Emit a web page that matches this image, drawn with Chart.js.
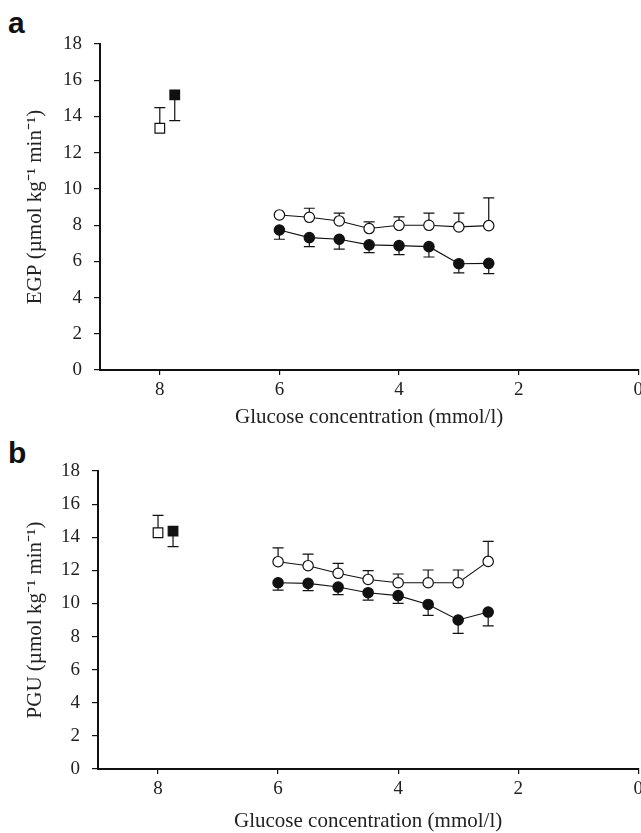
<!DOCTYPE html>
<html>
<head>
<meta charset="utf-8">
<script src="https://cdn.jsdelivr.net/npm/chart.js@4/dist/chart.umd.min.js"></script>
<style>
  html, body { margin: 0; padding: 0; background: #fff; }
  body { width: 641px; height: 833px; position: relative; overflow: hidden; }
  .panel { position: absolute; left: 0; }
  .tag { position: absolute; left: 8px; font: bold 30px "Liberation Sans", Arial, sans-serif; line-height: 30px; color: #111; }
</style>
</head>
<body>
<div class="tag" style="top:8px">a</div>
<div class="tag" style="top:438px">b</div>
<!-- canvases are a bit wider than the page so the "0" label is cut at the edge as in the original -->
<canvas id="egp" class="panel" style="top:0" width="647" height="432"></canvas>
<canvas id="pgu" class="panel" style="top:400px" width="647" height="436"></canvas>
<script>
'use strict';

// ─── Data ────────────────────────────────────────────────────────────────────

const glucoseLevels = [6.0, 5.5, 5.0, 4.5, 4.0, 3.5, 3.0, 2.5];
const xTicks = [8, 6, 4, 2, 0];
const yTicks = [0, 2, 4, 6, 8, 10, 12, 14, 16, 18];

// baseline squares: open at 8.0, filled at 7.75
const baselineOpenX = 8.0;
const baselineFilledX = 7.75;

const egpBaseOpen = 13.35;
const egpBaseOpenSE = 1.14;
const egpBaseFilled = 15.19;
const egpBaseFilledSE = 1.42;
const egpOpen = [8.56, 8.43, 8.23, 7.81, 7.99, 7.99, 7.90, 7.97];
const egpOpenSE = [0.08, 0.50, 0.43, 0.37, 0.46, 0.67, 0.76, 1.53];
const egpFilled = [7.73, 7.31, 7.22, 6.91, 6.87, 6.81, 5.87, 5.89];
const egpFilledSE = [0.51, 0.50, 0.55, 0.43, 0.50, 0.57, 0.51, 0.57];

const pguBaseOpen = 14.27;
const pguBaseOpenSE = 1.05;
const pguBaseFilled = 14.37;
const pguBaseFilledSE = 0.94;
const pguOpen = [12.52, 12.28, 11.82, 11.45, 11.25, 11.25, 11.25, 12.54];
const pguOpenSE = [0.84, 0.70, 0.60, 0.53, 0.53, 0.77, 0.77, 1.21];
const pguFilled = [11.25, 11.21, 10.99, 10.65, 10.47, 9.94, 9.00, 9.48];
const pguFilledSE = [0.44, 0.44, 0.46, 0.45, 0.47, 0.66, 0.81, 0.84];

const X_TITLE = 'Glucose concentration (mmol/l)';

// ─── Error bars (one-sided: open up, filled down) ────────────────────────────

const errorBars = {
  id: 'errorBars',
  beforeDatasetsDraw(chart) {
    const { ctx, scales: { x, y } } = chart;
    ctx.save();
    ctx.strokeStyle = '#111';
    ctx.lineWidth = 1.2;
    chart.data.datasets.forEach(ds => {
      if (!ds.errors) return;
      ds.data.forEach((pt, i) => {
        const px = x.getPixelForValue(pt.x);
        const py0 = y.getPixelForValue(pt.y);
        const py1 = y.getPixelForValue(pt.y + ds.errDir * ds.errors[i]);
        ctx.beginPath();
        ctx.moveTo(px, py0);
        ctx.lineTo(px, py1);
        ctx.moveTo(px - 5.5, py1);
        ctx.lineTo(px + 5.5, py1);
        ctx.stroke();
      });
    });
    ctx.restore();
  },
};

// ─── Panel builder ───────────────────────────────────────────────────────────

function pairs(xs, ys) {
  return xs.map((v, i) => ({ x: v, y: ys[i] }));
}

function buildPanel(canvasId, yTitle, d, box) {
  const serif = '"Liberation Serif", "Times New Roman", serif';
  const tickFont = { family: serif, size: 19 };
  const titleFont = { family: serif, size: 21 };

  const circle = (data, errors, filled) => ({
    data,
    errors,
    errDir: filled ? -1 : 1,
    showLine: true,
    borderColor: '#111',
    borderWidth: 1.1,
    pointStyle: 'circle',
    pointRadius: 5.2,
    pointBorderWidth: 1.2,
    pointBorderColor: '#111',
    pointBackgroundColor: filled ? '#111' : '#fff',
  });

  const square = (data, errors, filled) => ({
    data,
    errors,
    errDir: filled ? -1 : 1,
    showLine: false,
    pointStyle: 'rect',
    pointRadius: 6.8,
    pointBorderWidth: 1.2,
    pointBorderColor: '#111',
    pointBackgroundColor: filled ? '#111' : '#fff',
  });

  return new Chart(document.getElementById(canvasId), {
    type: 'scatter',
    data: {
      datasets: [
        circle(pairs(glucoseLevels, d.open), d.openSE, false),
        circle(pairs(glucoseLevels, d.filled), d.filledSE, true),
        square([{ x: baselineOpenX, y: d.baseOpen }], [d.baseOpenSE], false),
        square([{ x: baselineFilledX, y: d.baseFilled }], [d.baseFilledSE], true),
      ],
    },
    options: {
      animation: false,
      responsive: false,
      events: [],
      layout: { padding: { top: box.top, right: 3, bottom: 0, left: 0 } },
      plugins: { legend: { display: false }, tooltip: { enabled: false } },
      scales: {
        x: {
          type: 'linear',
          min: 0,
          max: 9,
          reverse: true,
          afterBuildTicks: s => { s.ticks = xTicks.map(v => ({ value: v })); },
          afterFit: s => { s.height = box.xHeight; },
          grid: { display: true, drawOnChartArea: false, drawTicks: true, tickLength: 5, color: '#111', lineWidth: 1.2 },
          border: { display: true, color: '#111', width: 2 },
          ticks: { color: '#222', font: tickFont, padding: 4, maxRotation: 0 },
          title: { display: true, text: X_TITLE, color: '#222', font: titleFont, padding: { top: 0, bottom: box.xTitlePad } },
        },
        y: {
          type: 'linear',
          min: 0,
          max: 18,
          afterBuildTicks: s => { s.ticks = yTicks.map(v => ({ value: v })); },
          afterFit: s => { s.width = box.yWidth; },
          grid: { display: true, drawOnChartArea: false, drawTicks: true, tickLength: 6, color: '#111', lineWidth: 1.2 },
          border: { display: true, color: '#111', width: 2 },
          ticks: { color: '#222', font: tickFont, padding: 12 },
          title: { display: true, text: yTitle, color: '#222', font: titleFont, padding: { top: 23, bottom: 0 } },
        },
      },
    },
    plugins: [errorBars],
  });
}

buildPanel('egp', 'EGP (\u00b5mol kg\u207b\u00b9 min\u207b\u00b9)', {
  open: egpOpen, openSE: egpOpenSE,
  filled: egpFilled, filledSE: egpFilledSE,
  baseOpen: egpBaseOpen, baseOpenSE: egpBaseOpenSE,
  baseFilled: egpBaseFilled, baseFilledSE: egpBaseFilledSE,
}, { top: 44, xHeight: 62, xTitlePad: 1.5, yWidth: 100 });

buildPanel('pgu', 'PGU (\u00b5mol kg\u207b\u00b9 min\u207b\u00b9)', {
  open: pguOpen, openSE: pguOpenSE,
  filled: pguFilled, filledSE: pguFilledSE,
  baseOpen: pguBaseOpen, baseOpenSE: pguBaseOpenSE,
  baseFilled: pguBaseFilled, baseFilledSE: pguBaseFilledSE,
}, { top: 71, xHeight: 67, xTitlePad: 1.5, yWidth: 98 });
</script>
</body>
</html>
